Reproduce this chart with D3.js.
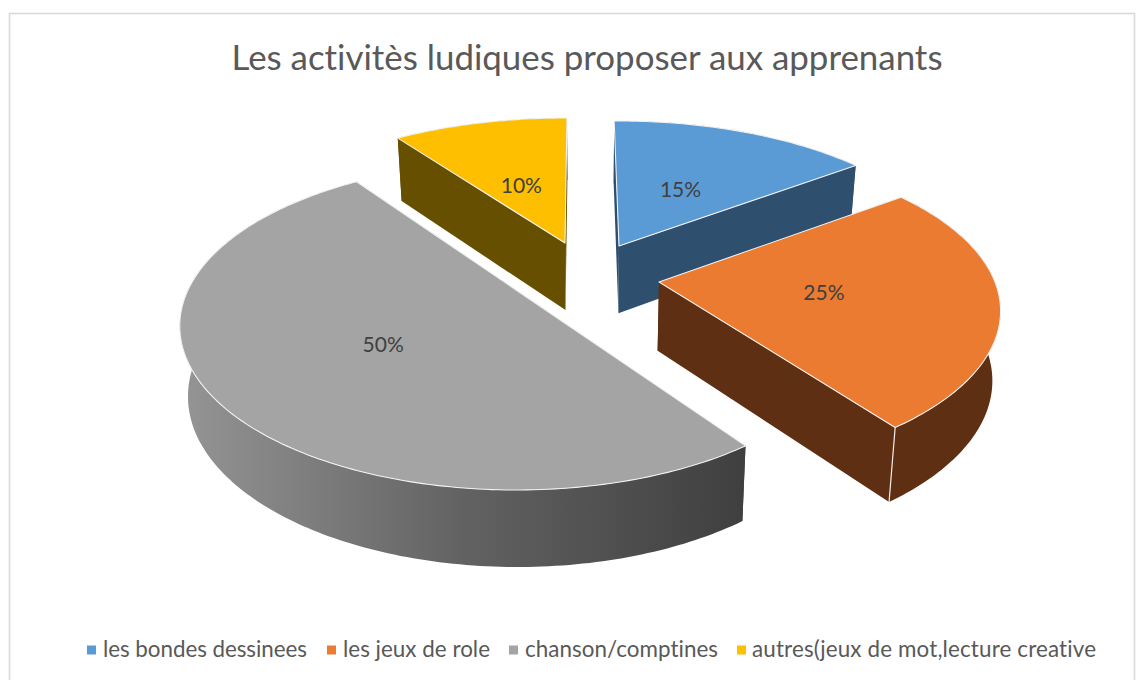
<!DOCTYPE html>
<html><head><meta charset="utf-8">
<script src="https://cdnjs.cloudflare.com/ajax/libs/d3/7.8.5/d3.min.js"></script>
<style>html,body{margin:0;padding:0;background:#fff;overflow:hidden}svg{display:block}text{font-family:Lato,"Open Sans",sans-serif;font-variant-ligatures:none}</style>
</head><body><svg id="c" width="1147" height="680"></svg>
<script>
const title = "Les activitès ludiques proposer aux apprenants";
const categories = ["les bondes dessinees","les jeux de role","chanson/comptines","autres(jeux de mot,lecture creative"];
const values = [15,25,50,10];
const topColors = ["#5b9bd5","#ea7b31","#a4a4a4","#fdbf00"];
const sideColors = ["#2f4f6f","#5e2f13","#6f6f6f","#665000"];

// Per-slice placement of the exploded, perspective-projected pie
const apexX = [619,659,516,565];
const apexY = [246,282,290,243];
const radiusX = [332,336,328,334];
const radiusY = [150,156,156,150];
const perspective = [0.2,0.18,0.22,0.2];
const rotationDeg = [-1,-1,1,0.4];
const labelRadius = [0.44,0.49,0.47,0.46];
const labelDy = [6,6,16,10];
const drawOrder = [3,0,2,1];
const depth = 68, depthGrow = 0.04, depthMidY = 265, shrink = 0.98, vanishX = 590;

const svg = d3.select("#c");
svg.append("rect").attr("x",9.5).attr("y",13.5).attr("width",1125).attr("height",680)
  .attr("fill","#fff").attr("stroke","#d9d9d9").attr("stroke-width",1.6);

svg.append("text").attr("x",587).attr("y",70).attr("text-anchor","middle")
  .attr("font-size",34.9).attr("fill","#595959").text(title);

const grad = svg.append("defs").append("linearGradient").attr("id","graySide")
  .attr("gradientUnits","userSpaceOnUse").attr("x1",180).attr("x2",745).attr("y1",0).attr("y2",0);
[[0,"#959595"],[0.5,"#626262"],[1,"#3f3f3f"]].forEach(s=>grad.append("stop").attr("offset",s[0]).attr("stop-color",s[1]));

const arcs = d3.pie().sort(null).value(d=>d)(values);

function project(i, a, r){
  const t = a + rotationDeg[i]*Math.PI/180;
  const X = r*Math.sin(t), Y = r*Math.cos(t);
  const s = 1/(1+perspective[i]*Y);
  return [apexX[i]+radiusX[i]*X*s, apexY[i]-radiusY[i]*Y*s];
}
const lower = p => [vanishX+(p[0]-vanishX)*shrink, p[1]+depth+(p[1]-depthMidY)*depthGrow];
const line = d3.line();

drawOrder.forEach(i=>{
  const d = arcs[i];
  const n = Math.max(8, Math.round((d.endAngle-d.startAngle)*60));
  const rim = d3.range(n+1).map(k=>project(i, d.startAngle+(d.endAngle-d.startAngle)*k/n, 1));
  const apex = project(i, 0, 0);
  const g = svg.append("g");
  const wall = (a,b)=>g.append("path").attr("d",line([a,b,lower(b),lower(a)])+"Z")
    .attr("fill",i===2?"#3f3f3f":sideColors[i]);
  wall(apex,rim[0]);
  wall(apex,rim[n]);
  g.append("path").attr("d",line(rim.concat(rim.map(lower).reverse()))+"Z")
    .attr("fill",i===2?"url(#graySide)":sideColors[i]);
  // white edge between the end wall and the rim side
  if(i===1) g.append("line").attr("x1",rim[n][0]).attr("y1",rim[n][1])
      .attr("x2",lower(rim[n])[0]).attr("y2",lower(rim[n])[1]).attr("stroke","#f4ece6").attr("stroke-width",1.2);
  g.append("path").attr("d",line([apex].concat(rim))+"Z")
    .attr("fill",topColors[i]).attr("stroke","#f2f2f2").attr("stroke-width",1.1).attr("stroke-linejoin","round");
});

arcs.forEach((d,i)=>{
  const p = project(i,(d.startAngle+d.endAngle)/2 - rotationDeg[i]*Math.PI/180,labelRadius[i]);
  svg.append("text").attr("x",p[0]).attr("y",p[1]+labelDy[i]).attr("text-anchor","middle")
    .attr("font-size",21).attr("fill","#404040").text(d.value+"%");
});

// legend
const legendSwatch = [87,327,509,737];
const legendText = [103,343,525,752];
const legendWidth = [204,147,193,344];
categories.forEach((c,i)=>{
  svg.append("rect").attr("x",legendSwatch[i]).attr("y",645.5).attr("width",9).attr("height",9).attr("fill",topColors[i]);
  svg.append("text").attr("x",legendText[i]).attr("y",657).attr("font-size",22.4)
    .attr("textLength",legendWidth[i]).attr("lengthAdjust","spacing").attr("fill","#595959").text(c);
});
</script></body></html>
